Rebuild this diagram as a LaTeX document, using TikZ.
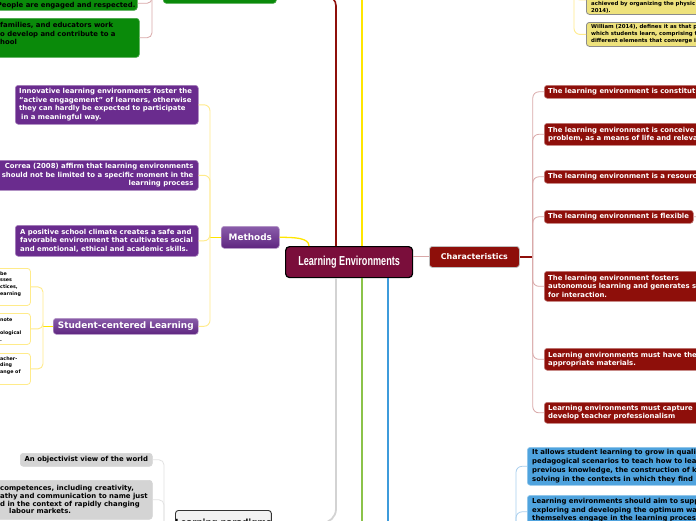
\documentclass[tikz,border=0pt]{standalone}
\usepackage{fontspec}
\setmainfont{DejaVu Sans}
\newfontfamily\rootfont{Liberation Sans}
\usetikzlibrary{calc}
\definecolor{rootc}{HTML}{7A0E3B}
\definecolor{redc}{HTML}{8E0F0A}
\definecolor{purc}{HTML}{6A2C8E}
\definecolor{purtop}{HTML}{8A5DAA}
\definecolor{purbot}{HTML}{5E2580}
\definecolor{grnc}{HTML}{0A8A0A}
\definecolor{bluc}{HTML}{4FA3DE}
\definecolor{gryc}{HTML}{D4D4D4}
\definecolor{ylwc}{HTML}{EEE27C}
\definecolor{pinkl}{HTML}{D9A8A8}
\definecolor{ylwl}{HTML}{FFE600}
\definecolor{ylwlt}{HTML}{FFEB8A}
\definecolor{gryl}{HTML}{D3D3D3}
\definecolor{grylt}{HTML}{E2E2E2}
\definecolor{grnl}{HTML}{8BC34A}
\definecolor{blul}{HTML}{3D9BDB}
\definecolor{blult}{HTML}{A9CFEE}
\tikzset{
  wh/.style 2 args={minimum width=#1pt, minimum height=#2pt},
  bx/.style={rounded corners=3pt, inner sep=0pt, anchor=north west, line width=0.6pt},
  rootbox/.style={bx, fill=rootc, draw=black, line width=1.2pt, rounded corners=4pt, text=white,
    font=\rootfont\bfseries\fontsize{13}{15}\selectfont},
  redbox/.style={bx, fill=redc, draw=redc!55!white},
  charbox/.style={bx, fill=redc, draw=black!25, line width=0.8pt, text=white,
    font=\bfseries\fontsize{7.9}{9}\selectfont},
  purbox/.style={bx, fill=purc, draw=purc!60!white},
  topicbox/.style={bx, top color=purtop, bottom color=purbot, draw=purc!50!white, text=white,
    font=\bfseries\fontsize{8.9}{10}\selectfont},
  grnbox/.style={bx, fill=grnc, draw=grnc!75!white},
  blubox/.style={bx, fill=bluc, draw=bluc!60!white},
  grybox/.style={bx, fill=gryc, draw=gryc},
  ylwbox/.style={bx, fill=ylwc, draw=black!45, line width=0.8pt},
  kidbox/.style={bx, fill=white, draw=ylwlt, line width=0.8pt},
  lpbox/.style={bx, fill=black!5, draw=black!80, line width=0.9pt, font=\bfseries\fontsize{8.5}{9}\selectfont},
  tx/.style={inner sep=0pt, anchor=west, align=left, font=\bfseries\fontsize{6.9}{8}\selectfont},
  txw/.style={tx, text=white},
  pinkL/.style={draw=pinkl, line width=0.8pt},
  darkL/.style={draw=redc, line width=1.6pt},
  ylwL/.style={draw=ylwl, line width=1.8pt},
  ylwLt/.style={draw=ylwlt, line width=0.9pt},
  gryL/.style={draw=gryl, line width=1.8pt},
  gryLt/.style={draw=grylt, line width=0.8pt},
  grnL/.style={draw=grnl, line width=1.8pt},
  bluL/.style={draw=blul, line width=1.8pt},
  bluLt/.style={draw=blult, line width=0.8pt},
}
\begin{document}
\begin{tikzpicture}[x=1pt,y=-1pt]
\useasboundingbox[fill=white] (0,0) rectangle (696,520);

% ---------- central ----------
\node[rootbox, wh={127}{31}] (root) at (285,246) {\scalebox{0.7}[1]{Learning Environments}};

% ---------- green (top left) ----------
\node[grnbox, wh={113}{15}] (gp) at (163,-12) {};
\node[grnbox, wh={147}{14}] (g1) at (-10,-4) {};
\node[tx, anchor=east, yshift=-2pt] (g1t) at ([xshift=-2pt]g1.east) {People are engaged and respected.};
\node[grnbox, wh={149}{39}] (g2) at (-10,18) {};
\node[tx, font=\bfseries\fontsize{6.9}{8.6}\selectfont, yshift=4pt] (g2t) at ([xshift=10pt]g2.west)
  {families, and educators work\\o develop and contribute to a\\hool};

% ---------- yellow (top right) ----------
\node[ylwbox, wh={124}{29}] (y1) at (586,-15) {};
\node[tx, font=\bfseries\fontsize{5.4}{6.8}\selectfont, yshift=-7.5pt] (y1t) at ([xshift=5pt]y1.west)
  {achieved by organizing the physic\\2014).};
\node[ylwbox, wh={124}{24}] (y2) at (586,22) {};
\node[tx, font=\bfseries\fontsize{5.4}{6.9}\selectfont] (y2t) at ([xshift=5pt]y2.west)
  {William (2014), defines it as that p\\which students learn, comprising t\\different elements that converge i};

% ---------- characteristics ----------
\node[charbox, wh={90}{21}] (ch) at (429,246) {Characteristics};
\node[redbox, wh={166}{13}] (r1) at (544,85) {};
\node[txw] (r1t) at ([xshift=4pt]r1.west) {The learning environment is constitut};
\node[redbox, wh={166}{22}] (r2) at (544,123) {};
\node[txw] (r2t) at ([xshift=4pt]r2.west) {The learning environment is conceive\\problem, as a means of life and releva};
\node[redbox, wh={166}{13}] (r3) at (544,170) {};
\node[txw] (r3t) at ([xshift=4pt]r3.west) {The learning environment is a resourc};
\node[redbox, wh={149}{13}] (r4) at (544,210) {};
\node[txw] (r4t) at ([xshift=4pt]r4.west) {The learning environment is flexible};
\node[redbox, wh={166}{30}] (r5) at (544,271) {};
\node[txw, font=\bfseries\fontsize{6.9}{8.5}\selectfont] (r5t) at ([xshift=4pt]r5.west)
  {The learning environment fosters\\autonomous learning and generates s\\for interaction.};
\node[redbox, wh={166}{22}] (r6) at (544,348) {};
\node[txw] (r6t) at ([xshift=4pt]r6.west) {Learning environments must have the\\appropriate materials.};
\node[redbox, wh={166}{21}] (r7) at (544,402) {};
\node[txw] (r7t) at ([xshift=4pt]r7.west) {Learning environments must capture\\develop teacher professionalism};

% ---------- blue ----------
\node[blubox, wh={183}{38}] (b1) at (527,447) {};
\node[tx, font=\bfseries\fontsize{6.9}{8.8}\selectfont] (b1t) at ([xshift=5pt]b1.west)
  {It allows student learning to grow in quali\\pedagogical scenarios to teach how to lea\\previous knowledge, the construction of k\\solving in the contexts in which they find};
\node[blubox, wh={183}{33}] (b2) at (527,495) {};
\node[tx, font=\bfseries\fontsize{6.9}{8.3}\selectfont, yshift=1.5pt] (b2t) at ([xshift=5pt]b2.west)
  {Learning environments should aim to supp\\exploring and developing the optimum wa\\themselves engage in the learning proces};

% ---------- gray ----------
\node[grybox, wh={132}{13}, font=\bfseries\fontsize{6.9}{8}\selectfont] (gr1) at (20,453) {An objectivist view of the world};
\node[grybox, wh={162}{39}] (gr2) at (-10,480) {};
\node[tx, font=\bfseries\fontsize{6.9}{7.7}\selectfont] (gr2t) at ([xshift=10pt]gr2.west)
  {competences, including creativity,\\athy and communication to name just\\d in the context of rapidly changing\\\hspace*{9pt}labour markets.};
\node[lpbox, wh={86}{25}] (lp) at (175,510) {Learning paradigms};

% ---------- purple ----------
\node[purbox, wh={183}{39}] (p1) at (15,85) {};
\node[txw, font=\bfseries\fontsize{6.9}{8.5}\selectfont] (p1t) at ([xshift=4pt]p1.west)
  {Innovative learning environments foster the\\``active engagement'' of learners, otherwise\\they can hardly be expected to participate\\\hspace*{2pt}in a meaningful way.};
\node[purbox, wh={208}{30}] (p2) at (-10,160) {};
\node[txw, anchor=east, align=right, font=\bfseries\fontsize{6.9}{8.3}\selectfont] (p2t) at ([xshift=-5pt]p2.east)
  {Correa (2008) affirm that learning environments\\should not be limited to a specific moment in the\\learning process};
\node[purbox, wh={183}{31}] (p3) at (15,225) {};
\node[txw, font=\bfseries\fontsize{6.9}{8.3}\selectfont] (p3t) at ([xshift=5pt]p3.west)
  {A positive school climate creates a safe and\\favorable environment that cultivates social\\and emotional, ethical and academic skills.};
\node[topicbox, wh={58}{22}] (m) at (221,226) {Methods};
\node[topicbox, wh={145}{16}] (sc) at (53,318) {Student-centered Learning};

% ---------- student-centered children ----------
\node[kidbox, wh={40}{37}] (s1) at (-10,268) {};
\node[tx, font=\bfseries\fontsize{4.8}{6.7}\selectfont, yshift=3pt] (s1t) at ([xshift=10pt]s1.west) {be\\sses\\ctices,\\earning};
\node[kidbox, wh={40}{31}] (s2) at (-10,313) {};
\node[tx, font=\bfseries\fontsize{4.8}{6.5}\selectfont, yshift=-1pt] (s2t) at ([xshift=10pt]s2.west) {note\\\mbox{}\\ological\\.};
\node[kidbox, wh={40}{31}] (s3) at (-10,353) {};
\node[tx, font=\bfseries\fontsize{4.8}{6.7}\selectfont, yshift=3.5pt] (s3t) at ([xshift=10pt]s3.west) {acher-\\ding\\ange of};

% ---------- coordinates ----------
\coordinate (ytop) at (362,-5);
\coordinate (gbot) at (362,530);
\coordinate (bbot) at (388,530);
\coordinate (cj) at ($(ch.east)+(13,0)$);
\coordinate (mj) at ($(m.west)+(-11,0)$);
\coordinate (sj) at ($(sc.west)+(-10,0)$);
\coordinate (gj) at ($(gp.west)+(-11,0)$);
\coordinate (yj) at (574,-30);
\coordinate (bj) at (516,560);
\coordinate (lj) at ($(lp.west)+(-11,0)$);
\coordinate (r4x) at (705,216.5);

% ---------- connectors from root ----------
\draw[darkL, rounded corners=10pt] ($(root.north west)+(51,0)$) |- (gp.east);
\draw[ylwL] ($(root.north west)+(77,0)$) -- (ytop);
\draw[ylwL, line width=1.3pt] (m.east) .. controls +(16,0) and +(0,-8) .. ($(root.north west)+(24,0)$);
\draw[pinkL, line width=1pt] (root.east |- ch.west) -- (ch.west);
\draw[gryL, rounded corners=14pt] ($(root.south west)+(51,0)$) |- (lp.east);
\draw[grnL] ($(root.south west)+(77,0)$) -- (gbot);
\draw[bluL] ($(root.south west)+(103,0)$) -- (bbot);

% ---------- brackets ----------
\draw[darkL] (ch.east) -- (cj);
\foreach \n in {r1,r2,r3,r4,r5,r6,r7} \draw[pinkL, rounded corners=6pt] (\n.west) -| (cj);
\draw[pinkL] (r4.east) -- (r4x);

\draw[ylwL, line width=1.1pt] (m.west) -- (mj);
\foreach \n in {p1,p2,p3,sc} \draw[ylwLt, rounded corners=6pt] (\n.east) -| (mj);
\draw[ylwL, line width=1.1pt] (sc.west) -- (sj);
\foreach \n in {s1,s2,s3} \draw[ylwLt, rounded corners=5pt] (\n.east) -| (sj);

\draw[pinkL] (gp.west) -- (gj);
\foreach \n in {g1,g2} \draw[pinkL, rounded corners=5pt] (\n.east) -| (gj);

\foreach \n in {y1,y2} \draw[ylwLt, rounded corners=6pt] (\n.west) -| (yj);
\foreach \n in {b1,b2} \draw[bluLt, rounded corners=6pt] (\n.west) -| (bj);

\draw[gryLt] (lp.west) -- (lj);
\foreach \n in {gr1,gr2} \draw[gryLt, rounded corners=5pt] (\n.east) -| (lj);
\end{tikzpicture}
\end{document}
